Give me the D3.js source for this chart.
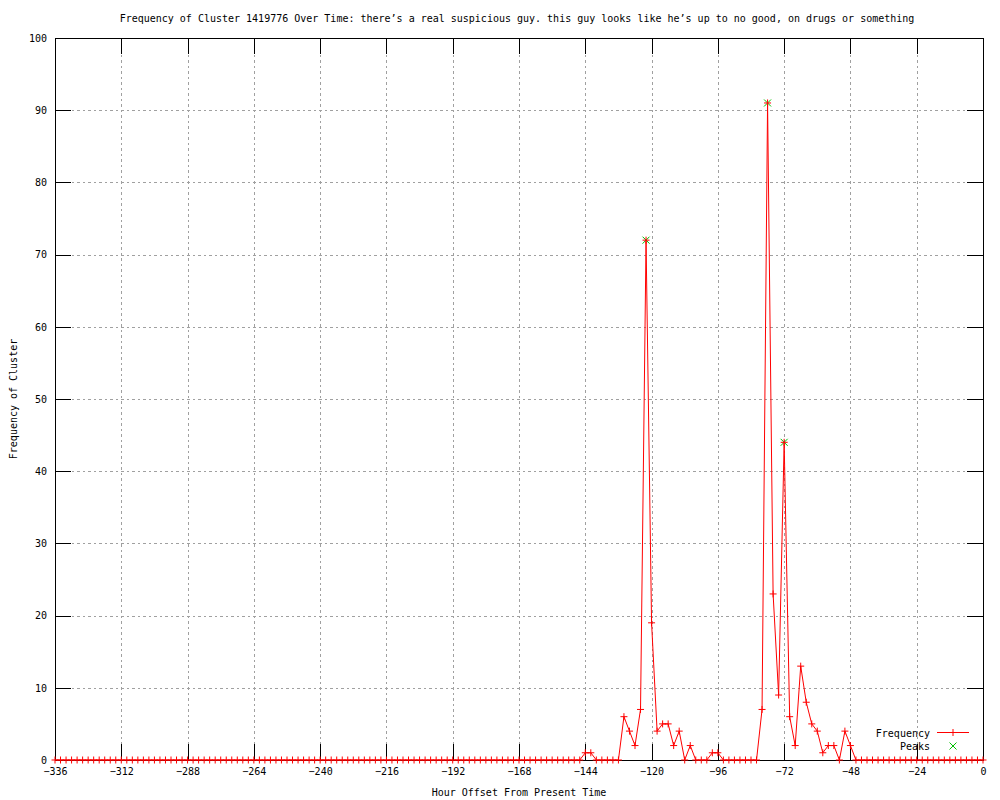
<!DOCTYPE html>
<head>
  <meta charset="utf-8">
  <script src="https://cdnjs.cloudflare.com/ajax/libs/d3/7.8.5/d3.min.js"></script>
  <style>
    body { margin: 0; background: #fff; }
    text { font-family: "DejaVu Sans Mono", monospace; font-size: 10px; fill: #000; }
    .grid line { stroke: #a0a0a0; stroke-dasharray: 2.5,3; shape-rendering: crispEdges; }
    .axis path { display: none; }
    .axis line { stroke: #000; shape-rendering: crispEdges; }
  </style>
</head>
<body>
<script>

// frequency every 2 hours, -336 .. 0
var freqValues = [
  0,0,0,0,0,0,0,0,0,0,0,0,
  0,0,0,0,0,0,0,0,0,0,0,0,
  0,0,0,0,0,0,0,0,0,0,0,0,
  0,0,0,0,0,0,0,0,0,0,0,0,
  0,0,0,0,0,0,0,0,0,0,0,0,
  0,0,0,0,0,0,0,0,0,0,0,0,
  0,0,0,0,0,0,0,0,0,0,0,0,
  0,0,0,0,0,0,0,0,0,0,0,0,
  1,1,0,0,0,0,0,6,4,2,7,72,
  19,4,5,5,2,4,0,2,0,0,0,1,
  1,0,0,0,0,0,0,0,7,91,23,9,
  44,6,2,13,8,5,4,1,2,2,0,4,
  2,0,0,0,0,0,0,0,0,0,0,0,
  0,0,0,0,0,0,0,0,0,0,0,0,
  0
];
var hours = d3.range(-336, 1, 2);

var peakHours = [-122, -78, -72];
var peakValues = [72, 91, 44];

var xTicks = [-336, -312, -288, -264, -240, -216, -192, -168, -144, -120, -96, -72, -48, -24, 0];
var yTicks = [0, 10, 20, 30, 40, 50, 60, 70, 80, 90, 100];

var titleText = "Frequency of Cluster 1419776 Over Time: there\u2019s a real suspicious guy. this guy looks like he\u2019s up to no good, on drugs or something";

var margin = { top: 38, right: 17, bottom: 40, left: 55 };
var width = 1000 - margin.left - margin.right;
var height = 800 - margin.top - margin.bottom;

var svg = d3.select("body").append("svg")
    .attr("width", 1000)
    .attr("height", 800);

var g = svg.append("g")
    .attr("transform", "translate(" + margin.left + "," + margin.top + ")");

var x = d3.scaleLinear().domain([-336, 0]).range([0, width]);
var y = d3.scaleLinear().domain([0, 100]).range([height, 0]);

// grid
g.append("g").attr("class", "grid")
  .selectAll("line").data(xTicks.slice(1, -1)).enter().append("line")
    .attr("x1", function(d) { return Math.round(x(d)) + 0.5; })
    .attr("x2", function(d) { return Math.round(x(d)) + 0.5; })
    .attr("y1", 0).attr("y2", height);

g.append("g").attr("class", "grid")
  .selectAll("line").data(yTicks.slice(1, -1)).enter().append("line")
    .attr("y1", function(d) { return Math.round(y(d)) + 0.5; })
    .attr("y2", function(d) { return Math.round(y(d)) + 0.5; })
    .attr("x1", 0).attr("x2", width);

// axes, ticks inward and mirrored
var tickLen = 16;

g.append("g").attr("class", "axis")
    .attr("transform", "translate(0," + height + ")")
    .call(d3.axisBottom(x).tickValues(xTicks).tickSize(-tickLen).tickPadding(8));

g.append("g").attr("class", "axis")
    .call(d3.axisTop(x).tickValues(xTicks).tickSize(-tickLen).tickFormat(""));

g.append("g").attr("class", "axis")
    .call(d3.axisLeft(y).tickValues(yTicks).tickSize(-tickLen).tickPadding(8));

g.append("g").attr("class", "axis")
    .attr("transform", "translate(" + width + ",0)")
    .call(d3.axisRight(y).tickValues(yTicks).tickSize(-tickLen).tickFormat(""));

g.selectAll(".axis text").style("font-family", "DejaVu Sans Mono").style("font-size", "10px");

// border
g.append("rect")
    .attr("x", 0.5).attr("y", 0.5)
    .attr("width", width).attr("height", height)
    .attr("fill", "none").attr("stroke", "#000")
    .attr("shape-rendering", "crispEdges");

// frequency line
var data = hours.map(function(h, i) { return { h: h, v: freqValues[i] }; });

var line = d3.line()
    .x(function(d) { return x(d.h); })
    .y(function(d) { return y(d.v); });

g.append("path")
    .datum(data)
    .attr("fill", "none")
    .attr("stroke", "#ff0000")
    .attr("stroke-width", 1)
    .attr("d", line);

function plusPath(s) {
  return "M" + (-s) + ",0H" + s + "M0," + (-s) + "V" + s;
}
function xPath(s) {
  return "M" + (-s) + "," + (-s) + "L" + s + "," + s + "M" + (-s) + "," + s + "L" + s + "," + (-s);
}

// peaks
g.append("g").selectAll("path").data(peakHours).enter().append("path")
    .attr("transform", function(d, i) { return "translate(" + x(d) + "," + y(peakValues[i]) + ")"; })
    .attr("d", xPath(3.5))
    .attr("stroke", "#00c000")
    .attr("fill", "none");

g.append("g").selectAll("path").data(data).enter().append("path")
    .attr("transform", function(d) { return "translate(" + x(d.h) + "," + y(d.v) + ")"; })
    .attr("d", plusPath(3.5))
    .attr("stroke", "#ff0000")
    .attr("fill", "none");

// legend
var legend = svg.append("g");
legend.append("text").attr("x", 930).attr("y", 736.5).attr("text-anchor", "end").text("Frequency");
legend.append("line").attr("x1", 937).attr("x2", 969).attr("y1", 732.5).attr("y2", 732.5)
    .attr("stroke", "#ff0000");
legend.append("path").attr("transform", "translate(953,732.5)").attr("d", plusPath(3.5))
    .attr("stroke", "#ff0000").attr("fill", "none");
legend.append("text").attr("x", 930).attr("y", 749.5).attr("text-anchor", "end").text("Peaks");
legend.append("path").attr("transform", "translate(953,746)").attr("d", xPath(3.5))
    .attr("stroke", "#00c000").attr("fill", "none");

// titles
svg.append("text")
    .attr("x", 517).attr("y", 22)
    .attr("text-anchor", "middle")
    .text(titleText);

svg.append("text")
    .attr("x", 519).attr("y", 796)
    .attr("text-anchor", "middle")
    .text("Hour Offset From Present Time");

svg.append("text")
    .attr("transform", "translate(17,399) rotate(-90)")
    .attr("text-anchor", "middle")
    .text("Frequency of Cluster");

</script>
</body>
